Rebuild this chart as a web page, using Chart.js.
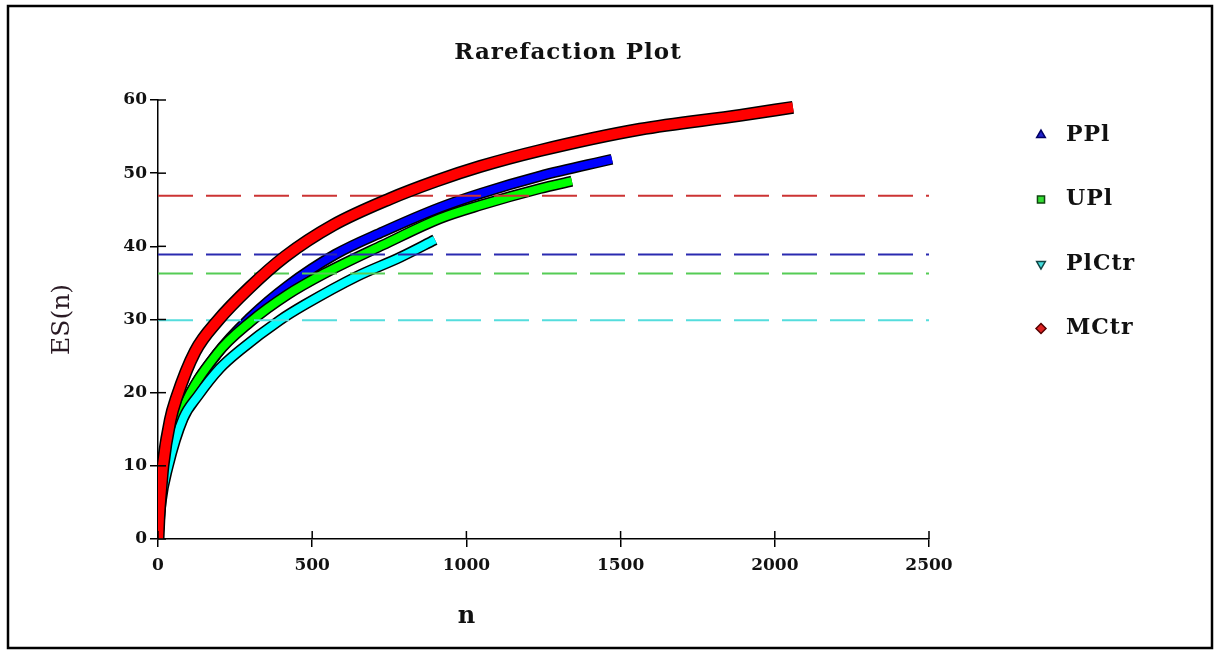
<!DOCTYPE html>
<html>
<head>
<meta charset="utf-8">
<script src="https://cdn.jsdelivr.net/npm/chart.js@4.4.1/dist/chart.umd.min.js"></script>
<style>
	html, body { margin: 0; padding: 0; background: #fff; }
	canvas { display: block; }
</style>
</head>
<body>
<canvas id="rarefactionChart" width="1216" height="652"></canvas>
<script>
// series (n, ES(n))
const seriesNames = ["PPl", "UPl", "PlCtr", "MCtr"];

const pplN = [0, 8, 25, 81, 191, 300, 420, 575, 730, 914, 1044, 1239, 1472];
const pplES = [0, 5.5, 10.5, 17.8, 25.3, 30.3, 34.6, 38.9, 42.0, 45.3, 47.2, 49.6, 51.9];

const uplN = [0, 8, 25, 81, 191, 300, 420, 540, 730, 914, 1044, 1239, 1342];
const uplES = [0, 5.5, 10.5, 17.8, 25.3, 29.7, 33.4, 36.3, 40.2, 43.8, 45.6, 47.9, 48.9];

const plctrN = [0, 10, 33, 82, 130, 200, 266, 395, 475, 645, 785, 898];
const plctrES = [0, 5, 9.9, 16.5, 19.6, 23.3, 25.8, 29.9, 32.0, 35.9, 38.5, 40.9];

const mctrN = [0, 3, 8, 16, 40, 60, 120, 195, 298, 412, 568, 752, 900, 1044, 1239, 1563, 1887, 2059];
const mctrES = [0, 3, 6, 10, 16.3, 19.3, 25.6, 29.9, 34.4, 38.6, 42.9, 46.5, 48.9, 50.9, 53.1, 56.0, 57.9, 59.0];

// dashed reference levels, same order as seriesNames
const refLevels = [38.9, 36.3, 29.9, 46.9];

const xMin = 0, xMax = 2500, xStep = 500;
const yMin = 0, yMax = 60, yStep = 10;

const curveColours = ["#0000ff", "#00ff00", "#00ffff", "#ff0000"];
const dashColours = ["#2a2ab0", "#55cc55", "#55dddd", "#cc3333"];
const markerStyles = ["triangle", "rect", "triangle", "rectRot"];
const markerRotation = [0, 0, 180, 0];
const markerFill = ["#2222cc", "#33dd33", "#44dddd", "#dd2222"];
const markerEdge = ["#000066", "#114411", "#114444", "#550000"];

const serif = "'DejaVu Serif', 'Liberation Serif', serif";

function toPoints(xs, ys) {
	return xs.map((x, i) => ({ x: x, y: ys[i] }));
}

const curves = [
	toPoints(pplN, pplES),
	toPoints(uplN, uplES),
	toPoints(plctrN, plctrES),
	toPoints(mctrN, mctrES),
];

// draw order: higher "order" is painted first
const curveOrder = [10, 8, 6, 1];
const bandWidth = [8, 8, 8, 10];

let datasets = [];
curves.forEach((pts, i) => {
	datasets.push({
		label: seriesNames[i] + " edge",
		data: pts,
		borderColor: "#000",
		borderWidth: bandWidth[i] + 3,
		showLine: true,
		pointRadius: 0,
		cubicInterpolationMode: "monotone",
		order: curveOrder[i] + 1,
	});
	datasets.push({
		label: seriesNames[i],
		data: pts,
		borderColor: curveColours[i],
		borderWidth: bandWidth[i],
		showLine: true,
		pointRadius: 0,
		cubicInterpolationMode: "monotone",
		order: curveOrder[i],
	});
});
refLevels.forEach((lvl, i) => {
	datasets.push({
		label: seriesNames[i] + " level",
		data: [{ x: xMin, y: lvl }, { x: xMax, y: lvl }],
		borderColor: dashColours[i],
		borderWidth: 2,
		borderDash: [35, 13],
		showLine: true,
		pointRadius: 0,
		order: 4,
	});
});

// frame, title, legend, x title and the inner half of the tick marks
const decorPlugin = {
	id: "decor",
	beforeDraw(chart) {
		const c = chart.ctx;
		c.save();
		c.fillStyle = "#fff";
		c.fillRect(0, 0, chart.width, chart.height);
		c.strokeStyle = "#000";
		c.lineWidth = 2.5;
		c.strokeRect(8, 6, 1204, 642);
		c.restore();
	},
	afterDraw(chart) {
		const c = chart.ctx;
		const xs = chart.scales.x, ys = chart.scales.y;
		c.save();
		c.strokeStyle = "#000";
		c.lineWidth = 1.5;
		ys.ticks.forEach((t) => {
			const py = ys.getPixelForValue(t.value);
			c.beginPath();
			c.moveTo(xs.left, py);
			c.lineTo(xs.left + 8, py);
			c.stroke();
		});
		xs.ticks.forEach((t) => {
			const px = xs.getPixelForValue(t.value);
			c.beginPath();
			c.moveTo(px, ys.bottom);
			c.lineTo(px, ys.bottom - 8);
			c.stroke();
		});

		c.fillStyle = "#111";
		c.textAlign = "center";
		c.textBaseline = "middle";
		c.letterSpacing = "1px";
		c.font = "bold 23px " + serif;
		c.fillText("Rarefaction Plot", 568, 53);
		c.font = "bold 24px " + serif;
		c.fillText("n", 467, 617);

		c.textAlign = "left";
		seriesNames.forEach((name, i) => {
			const y = 135 + i * 64.5;
			c.fillStyle = markerFill[i];
			c.strokeStyle = markerEdge[i];
			Chart.helpers.drawPoint(c, {
				pointStyle: markerStyles[i],
				radius: 5,
				rotation: markerRotation[i],
				borderWidth: 1,
			}, 1041, y);
			c.fillStyle = "#111";
			c.font = "bold 22px " + serif;
			c.fillText(name, 1066, y);
		});
		c.restore();
	},
};

const plainLabel = (v) => String(v);

const ctx = document.getElementById("rarefactionChart");
const config = {
	type: "scatter",
	data: { datasets: datasets },
	options: {
		responsive: false,
		animation: false,
		layout: { padding: { top: 100, right: 287, bottom: 0, left: 0 } },
		plugins: {
			legend: { display: false },
			title: { display: false },
			tooltip: { enabled: false },
		},
		scales: {
			x: {
				type: "linear",
				min: xMin,
				max: xMax,
				afterFit: (s) => { s.height = 113; },
				border: { display: true, color: "#000", width: 1.5 },
				grid: { drawOnChartArea: false, color: "#000", tickLength: 8, lineWidth: 1.5 },
				ticks: {
					stepSize: xStep,
					color: "#111",
					padding: 8,
					maxRotation: 0,
					callback: plainLabel,
					font: { family: serif, size: 17, weight: "bold" },
				},
			},
			y: {
				type: "linear",
				min: yMin,
				max: yMax,
				afterFit: (s) => { s.width = 158; },
				border: { display: true, color: "#000", width: 1.5 },
				grid: { drawOnChartArea: false, color: "#000", tickLength: 8, lineWidth: 1.5 },
				ticks: {
					stepSize: yStep,
					color: "#111",
					padding: 3,
					callback: plainLabel,
					font: { family: serif, size: 17, weight: "bold" },
				},
				title: {
					display: true,
					text: "ES(n)",
					color: "#2a1a24",
					padding: { top: 47, bottom: 0 },
					font: { family: serif, size: 25 },
				},
			},
		},
	},
	plugins: [decorPlugin],
};
const chart = new Chart(ctx, config);
</script>
</body>
</html>
